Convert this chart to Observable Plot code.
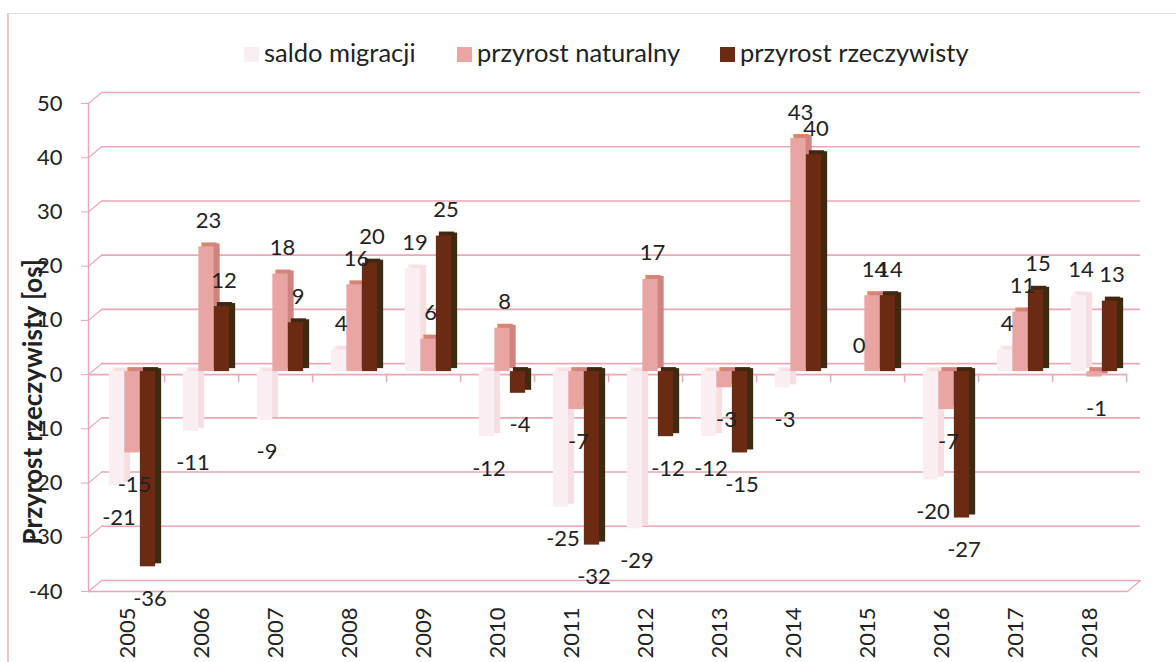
<!DOCTYPE html>
<html>
<head>
<meta charset="utf-8">
<script src="https://cdn.jsdelivr.net/npm/d3@7"></script>
<script src="https://cdn.jsdelivr.net/npm/@observablehq/plot@0.6"></script>
<style>
  html, body { margin: 0; padding: 0; background: #fff; }
  #page { position: relative; width: 1176px; height: 662px; overflow: hidden; font-family: Lato, sans-serif; color: #222; }
  #border { position: absolute; left: 7px; top: 13px; right: 0; bottom: -4px; border-left: 2px solid #f3c4cc; border-top: 1px solid #e4dcdc; }
  #legend { position: relative; height: 70px; font-size: 25.5px; }
  #legend span.item { position: absolute; top: 37px; line-height: 30px; white-space: nowrap; }
  #legend i { display: inline-block; width: 15px; height: 15px; margin-right: 5px; }
  svg { display: block; position: relative; }
</style>
</head>
<body>
<div id="page">
  <div id="border"></div>
  <div id="legend"></div>
  <div id="chart"></div>
</div>
<script>
const years = [2005,2006,2007,2008,2009,2010,2011,2012,2013,2014,2015,2016,2017,2018];
const series = ["saldo migracji","przyrost naturalny","przyrost rzeczywisty"];
const saldo = [-21,-11,-9,4,19,-12,-25,-29,-12,-3,0,-20,4,14];
const naturalny = [-15,23,18,16,6,8,-7,17,-3,43,14,-7,11,-1];
const rzeczywisty = [-36,12,9,20,25,-4,-32,-12,-15,40,14,-27,15,13];
const yTicks = [-40,-30,-20,-10,0,10,20,30,40,50];
const yLabel = "Przyrost rzeczywisty [os]";

const frontColors = ["#f9eff2","#e9a5a1","#6d2a12"];
const sideColors = ["#f6dfe3","#cf8480","#3e2a10"];
const topColors = ["#fbeee6","#de8a64","#4a2410"];
const gridColor = "#eba7b5";
const legendLefts = [244,457,720];

const rows = [saldo,naturalny,rzeczywisty].flatMap((vals,s) =>
  vals.map((value,i) => ({year: years[i], series: series[s], value})));

const barWidth = 15.5;
const inset = (74.2 - barWidth) / 2;
const groupDx = s => (s - 1) * barWidth + 5;

const bars = series.flatMap((name,s) => {
  const d = rows.filter(r => r.series === name);
  const o = {x:"year", y:"value", insetLeft:inset, insetRight:inset};
  return [
    Plot.barY(d,{...o, dx:groupDx(s)+3, dy:-7, fill:topColors[s]}),
    Plot.barY(d,{...o, dx:groupDx(s)+6, dy:-6, fill:sideColors[s]}),
    Plot.barY(d,{...o, dx:groupDx(s), dy:-3, fill:frontColors[s]})
  ];
});

const labels = series.flatMap((name,s) => {
  const d = rows.filter(r => r.series === name);
  const o = {x:"year", y:"value", text:r=>String(r.value), dx:groupDx(s)+2, fontSize:22, fill:"#222"};
  return [
    Plot.text(d.filter(r=>r.value>=0),{...o, dy:-29}),
    Plot.text(d.filter(r=>r.value<0),{...o, dy:29})
  ];
});

const line = {draw(c,l){c.moveTo(0,0);c.lineTo(0,-l);}};

const chart = Plot.plot({
  width: 1176,
  height: 592,
  marginTop: 33,
  marginBottom: 71,
  marginLeft: 88,
  marginRight: 49,
  style: {fontFamily: "Lato, sans-serif", fontSize: "22px", color: "#222", background: "transparent", overflow: "visible"},
  x: {domain: years, padding: 0, axis: null},
  y: {domain: [-40,50], axis: null},
  marks: [
    Plot.ruleY(yTicks,{y:d=>d, dx:13, dy:-11, stroke:gridColor, strokeWidth:1.6}),
    Plot.vector(yTicks,{y:d=>d, frameAnchor:"left", length:17, rotate:50, anchor:"start", shape:line, stroke:gridColor, strokeWidth:1.2}),
    Plot.vector([-40],{y:d=>d, frameAnchor:"right", length:17, rotate:50, anchor:"start", shape:line, stroke:gridColor, strokeWidth:1.2}),
    Plot.ruleY([-40,0],{y:d=>d, stroke:gridColor, strokeWidth:1.6}),
    Plot.frame({anchor:"left", stroke:gridColor, strokeWidth:1.4}),
    Plot.vector(years,{x:d=>d, y:()=>0, dx:37.1, length:7, rotate:180, anchor:"start", shape:line, stroke:gridColor}),
    Plot.axisY({ticks:yTicks, tickFormat:d=>String(d), tickSize:7, tickPadding:19, stroke:gridColor, color:"#222", label:null, fontSize:22}),
    Plot.axisX({anchor:"bottom", tickRotate:-90, tickSize:0, tickPadding:16, tickFormat:d=>String(d), label:null, fontSize:22}),
    ...bars,
    ...labels,
    Plot.text([yLabel],{text:d=>d, y:()=>-5, frameAnchor:"left", textAnchor:"middle", rotate:-90, dx:-55, fontSize:26, fontWeight:"bold", fill:"#222"})
  ]
});
document.getElementById("chart").appendChild(chart);

const legend = document.getElementById("legend");
series.forEach((name,s) => {
  const it = document.createElement("span");
  it.className = "item";
  it.style.left = legendLefts[s] + "px";
  const sw = document.createElement("i");
  sw.style.background = frontColors[s];
  it.appendChild(sw);
  it.appendChild(document.createTextNode(name));
  legend.appendChild(it);
});
</script>
</body>
</html>
